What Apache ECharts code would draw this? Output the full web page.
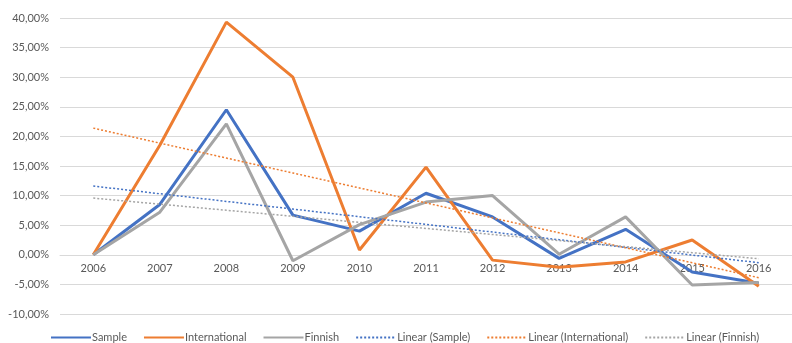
<!DOCTYPE html>
<html>
<head>
<meta charset="utf-8">
<script src="https://cdn.jsdelivr.net/npm/echarts@6/dist/echarts.min.js"></script>
<style>
  html, body { margin: 0; padding: 0; background: #fff; }
  #main { width: 792px; height: 343px; }
</style>
</head>
<body>
<div id="main"></div>
<script>
// values, in percent
var years = ['2006', '2007', '2008', '2009', '2010', '2011', '2012', '2013', '2014', '2015', '2016'];
var sample = [0, 8.5, 24.5, 6.7, 4.0, 10.4, 6.4, -0.6, 4.3, -2.9, -4.8];
var international = [0, 18.5, 39.3, 30.0, 0.8, 14.8, -0.9, -2.1, -1.2, 2.5, -5.3];
var finnish = [0, 7.2, 22.1, -1.0, 5.1, 8.9, 10.0, 0.1, 6.4, -5.1, -4.7];

// least-squares trend, same as the spreadsheet "Linear" trendline
function linear(ys) {
    var n = ys.length, mx = (n - 1) / 2, my = 0;
    ys.forEach(function (y) { my += y / n; });
    var sxy = 0, sxx = 0;
    ys.forEach(function (y, i) { sxy += (i - mx) * (y - my); sxx += (i - mx) * (i - mx); });
    var b = sxy / sxx;
    return ys.map(function (y, i) { return +(my + b * (i - mx)).toFixed(3); });
}

var font = 'Lato, "Open Sans", sans-serif';
var grey = '#595959';
var yMin = -10, yMax = 40;
var gridTop = 18, gridBottom = 29, chartH = 343;

function solid(name, data, color) {
    return {
        name: name, type: 'line', data: data, symbol: 'none',
        lineStyle: { color: color, width: 3 }, itemStyle: { color: color }
    };
}
function trend(name, data, color) {
    return {
        name: name, type: 'line', data: linear(data), symbol: 'none',
        lineStyle: { color: color, width: 1.5, type: [2, 2] }, itemStyle: { color: color }
    };
}

// x axis sits on the 0 line
var plotH = chartH - gridTop - gridBottom;
var zeroOffset = -plotH * (0 - yMin) / (yMax - yMin);

var chart = echarts.init(document.getElementById('main'));
chart.setOption({
    animation: false,
    grid: { left: 60, right: -8, top: gridTop, bottom: gridBottom },
    legend: {
        bottom: 0, left: 50, padding: 0,
        itemWidth: 40, itemHeight: 12, itemGap: 16,
        itemStyle: { opacity: 0 },
        textStyle: { color: grey, fontSize: 11, fontFamily: font, padding: [0, 0, 0, -4] },
        data: ['Sample', 'International', 'Finnish', 'Linear (Sample)', 'Linear (International)', 'Linear (Finnish)']
    },
    xAxis: {
        type: 'category', data: years, boundaryGap: true,
        offset: zeroOffset,
        axisLine: { onZero: false, lineStyle: { color: '#d9d9d9' } },
        axisTick: { show: false },
        axisLabel: { color: grey, fontSize: 11, fontFamily: font, margin: 8 }
    },
    yAxis: {
        type: 'value', min: yMin, max: yMax, interval: 5,
        axisLine: { show: false }, axisTick: { show: false },
        splitLine: { lineStyle: { color: '#d9d9d9', width: 1 } },
        axisLabel: {
            color: grey, fontSize: 11, fontFamily: font, margin: 11,
            formatter: function (v) { return v.toFixed(2).replace('.', ',') + '%'; }
        }
    },
    series: [
        solid('Sample', sample, '#4472C4'),
        solid('International', international, '#ED7D31'),
        solid('Finnish', finnish, '#A5A5A5'),
        trend('Linear (Sample)', sample, '#4472C4'),
        trend('Linear (International)', international, '#ED7D31'),
        trend('Linear (Finnish)', finnish, '#A5A5A5')
    ]
});
</script>
</body>
</html>
